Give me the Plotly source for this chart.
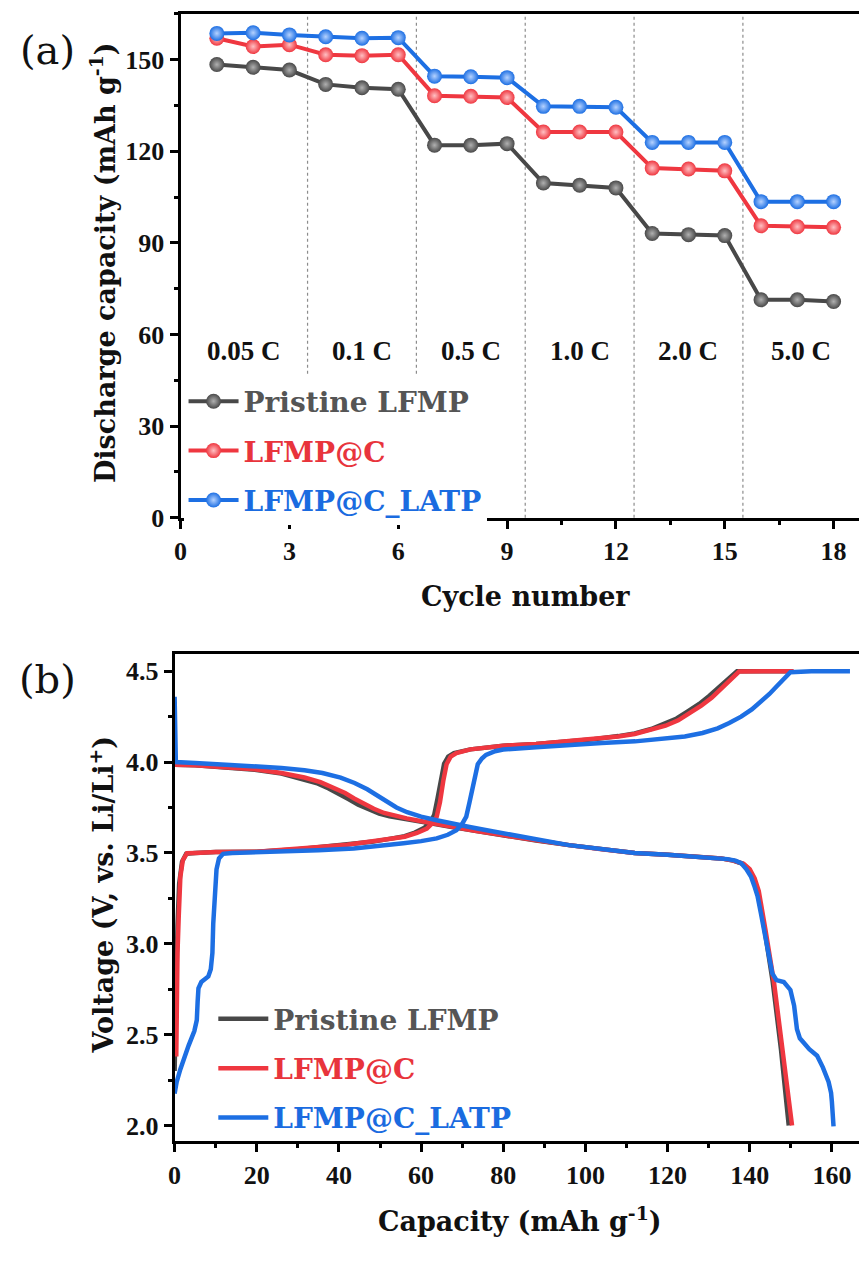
import plotly.graph_objects as go

# ---------------- Panel (a): rate capability ----------------
cycles = list(range(1, 19))
rate_labels = ["0.05 C", "0.1 C", "0.5 C", "1.0 C", "2.0 C", "5.0 C"]
cycles_per_rate = 3
rate_label_y = 54.6

cap_pristine = [148.4, 147.5, 146.6, 141.9, 140.8, 140.3, 122.0, 122.0, 122.5,
                109.6, 108.9, 108.0, 93.1, 92.7, 92.4, 71.4, 71.4, 70.8]
cap_lfmp_c = [157.0, 154.3, 154.9, 151.6, 151.3, 151.6, 138.2, 138.0, 137.6,
              126.3, 126.3, 126.3, 114.5, 114.2, 113.6, 95.6, 95.3, 95.1]
cap_lfmp_c_latp = [158.6, 158.8, 158.1, 157.5, 157.0, 157.2, 144.6, 144.4, 144.1,
                   134.7, 134.7, 134.4, 122.9, 122.9, 122.9, 103.5, 103.5, 103.5]

# ---------------- Panel (b): charge / discharge profiles ----------------
pr_chg_cap = [0.0, 0.2, 0.4, 0.7, 1.1, 1.8, 2.8, 5, 10, 20, 30, 36, 42, 48, 53, 56,
              58.5, 60.8, 62.4, 63.2, 64.0, 64.8, 65.6, 66.6, 68.0, 72, 76, 80, 88,
              96, 102, 108, 112, 116, 119.2, 122.2, 125.0, 127.7, 130.2, 132.5,
              134.8, 136.9, 145, 150.3]
pr_chg_v = [2.30, 2.55, 2.8, 3.1, 3.33, 3.45, 3.495, 3.50, 3.505, 3.507, 3.52, 3.534,
            3.545, 3.561, 3.58, 3.592, 3.612, 3.638, 3.675, 3.71, 3.80, 3.91, 3.99,
            4.03, 4.05, 4.07, 4.082, 4.09, 4.10, 4.114, 4.126, 4.143, 4.158, 4.182,
            4.21, 4.24, 4.28, 4.32, 4.365, 4.41, 4.46, 4.50, 4.50, 4.50]

c_chg_cap = [0.4, 0.5, 0.7, 1.0, 1.4, 2.0, 3.0, 5, 10, 20, 30, 36, 42, 48, 53, 56,
             59, 61.4, 63.0, 63.8, 64.6, 65.4, 66.2, 67.2, 68.6, 72, 76, 80, 88, 96,
             102, 108, 112, 116, 119.5, 122.6, 125.5, 128.2, 130.8, 133.0, 135.3,
             137.4, 145, 150.7]
c_chg_v = [2.38, 2.7, 2.95, 3.15, 3.37, 3.46, 3.498, 3.50, 3.505, 3.507, 3.52, 3.534,
           3.545, 3.561, 3.58, 3.589, 3.61, 3.634, 3.67, 3.70, 3.78, 3.897, 3.988,
           4.03, 4.05, 4.07, 4.082, 4.09, 4.10, 4.114, 4.125, 4.141, 4.155, 4.177,
           4.20, 4.23, 4.27, 4.31, 4.355, 4.40, 4.45, 4.498, 4.50, 4.50]

latp_chg_cap = [0.0, 0.5, 1.4, 2.4, 3.4, 4.8, 5.4, 5.6, 5.8, 6.5, 7.5, 8.2, 8.8, 9.0,
                9.2, 9.4, 9.8, 10.2, 10.8, 11.8, 14, 20, 27.5, 35, 43.6, 50, 55.7, 60,
                63.8, 66.5, 68.6, 70.0, 71.0, 71.8, 72.6, 73.2, 73.8, 74.8, 75.8, 78,
                80, 88, 96, 104, 112.1, 118, 124.2, 128.5, 132.2, 135, 137.9, 140.5,
                142.7, 144.8, 146.7, 148.4, 149.9, 155, 160, 164.4]
latp_chg_v = [2.175, 2.24, 2.31, 2.38, 2.44, 2.52, 2.58, 2.68, 2.755, 2.79, 2.81, 2.82,
              2.86, 2.89, 2.95, 3.11, 3.30, 3.41, 3.47, 3.495, 3.50, 3.503, 3.507,
              3.515, 3.525, 3.538, 3.553, 3.565, 3.58, 3.60, 3.625, 3.66, 3.70, 3.78,
              3.86, 3.93, 3.988, 4.02, 4.04, 4.06, 4.069, 4.082, 4.096, 4.105, 4.114,
              4.126, 4.141, 4.16, 4.186, 4.215, 4.25, 4.29, 4.33, 4.375, 4.42, 4.46,
              4.495, 4.50, 4.50, 4.50]

pr_dis_cap = [0, 0.3, 5, 10, 19.5, 26, 31.0, 34.5, 37.5, 40.2, 42.4, 44.7, 47.2, 49.8,
              52.3, 55.7, 59.2, 63.0, 67.5, 73.5, 79.9, 88, 96, 104, 112, 120, 128.2,
              133, 136, 138.3, 139.8, 141.0, 142.0, 142.8, 143.6, 145.6, 147.6, 149.5]
pr_dis_v = [3.99, 3.985, 3.982, 3.975, 3.958, 3.937, 3.91, 3.885, 3.855, 3.825, 3.795,
            3.765, 3.738, 3.716, 3.702, 3.687, 3.674, 3.66, 3.643, 3.62, 3.598, 3.568,
            3.543, 3.52, 3.50, 3.49, 3.48, 3.47, 3.458, 3.44, 3.41, 3.36, 3.29, 3.2,
            3.08, 2.79, 2.42, 2.0]

c_dis_cap = [0, 0.3, 5, 10, 19.5, 26, 31.6, 35.5, 38.8, 41.5, 43.7, 46, 48.5, 51, 53.3,
             56.5, 59.8, 63.5, 67.8, 73.5, 79.9, 88, 96, 104, 112, 120, 128.2, 133,
             136, 138.5, 140.0, 141.2, 142.2, 143.0, 143.8, 145.9, 148.0, 150.3]
c_dis_v = [3.99, 3.985, 3.982, 3.975, 3.96, 3.94, 3.915, 3.89, 3.86, 3.83, 3.80, 3.77,
           3.743, 3.72, 3.706, 3.69, 3.676, 3.66, 3.643, 3.62, 3.598, 3.568, 3.543,
           3.52, 3.50, 3.49, 3.48, 3.47, 3.458, 3.44, 3.41, 3.36, 3.29, 3.2, 3.08,
           2.79, 2.42, 2.0]

latp_dis_cap = [0, 0.15, 0.3, 5, 10, 19.5, 26, 31.6, 36, 40.4, 43.8, 46.9, 49.5, 51.7,
                54, 56.6, 60, 63.8, 67.5, 71.8, 76, 79.9, 88, 96, 104, 112, 120, 128.2,
                132, 134.6, 136.5, 137.9, 139.2, 140.3, 141.1, 141.9, 142.7, 143.5,
                144.5, 145.5, 146.5, 148.3, 149.9, 150.8, 151.5, 152.2, 153.1, 154.5,
                156.4, 157.8, 159.2, 159.8, 160.0, 160.2, 160.4]
latp_dis_v = [4.36, 4.1, 4.0, 3.995, 3.99, 3.978, 3.968, 3.955, 3.94, 3.915, 3.885,
              3.85, 3.815, 3.78, 3.75, 3.724, 3.70, 3.68, 3.66, 3.643, 3.625, 3.607,
              3.575, 3.543, 3.52, 3.50, 3.49, 3.48, 3.472, 3.466, 3.458, 3.444, 3.41,
              3.37, 3.32, 3.263, 3.17, 3.08, 2.96, 2.837, 2.80, 2.79, 2.746, 2.66,
              2.53, 2.48, 2.457, 2.42, 2.384, 2.32, 2.24, 2.18, 2.13, 2.06, 1.995]

# ---------------- styling ----------------
W, H = 859, 1265
GRAY, RED, BLUE = "#484848", "#ef3740", "#1d6fe3"
GRAY_T, RED_T, BLUE_T = "#555555", "#e8343c", "#1a6be0"
TEXT_FONT = "DejaVu Serif"
NUM_FONT = "Liberation Serif"


def px_x(p):
    return p / W


def px_y(p):
    return 1 - p / H


def colored(name, color):
    return f'<span style="color:{color}">{name}</span>'


fig = go.Figure()

series_a = [
    ("Pristine LFMP", cap_pristine, GRAY, "#b0b0b0", GRAY_T),
    ("LFMP@C", cap_lfmp_c, RED, "#ffc0c3", RED_T),
    ("LFMP@C_LATP", cap_lfmp_c_latp, BLUE, "#b5d2ff", BLUE_T),
]
for name, vals, col, hi, tcol in series_a:
    fig.add_trace(go.Scatter(
        x=cycles, y=vals, mode="lines+markers", name=colored(name, tcol),
        line=dict(color=col, width=4),
        marker=dict(size=15, color=col, gradient=dict(type="radial", color=hi)),
        xaxis="x", yaxis="y", legend="legend", legendgroup=name + "_a",
    ))

series_b = [
    ("Pristine LFMP", pr_chg_cap, pr_chg_v, pr_dis_cap, pr_dis_v, GRAY, GRAY_T),
    ("LFMP@C", c_chg_cap, c_chg_v, c_dis_cap, c_dis_v, RED, RED_T),
    ("LFMP@C_LATP", latp_chg_cap, latp_chg_v, latp_dis_cap, latp_dis_v, BLUE, BLUE_T),
]
for name, cx, cv, dx, dv, col, tcol in series_b:
    fig.add_trace(go.Scatter(
        x=cx + [None] + dx, y=cv + [None] + dv, mode="lines",
        name=colored(name, tcol), line=dict(color=col, width=4.5),
        xaxis="x2", yaxis="y2", legend="legend2", legendgroup=name + "_b",
    ))

# rate segment separators and labels, derived from the cycle grouping
n_rates = len(rate_labels)
boundaries = [0.5 + cycles_per_rate * k for k in range(1, n_rates)]
x_max_a = 18.7
edges = [0] + boundaries + [x_max_a]
shapes = []
for b in boundaries:
    shapes.append(dict(type="line", xref="x", yref="y domain", x0=b, x1=b, y0=0, y1=1,
                       line=dict(color="#8c8c8c", width=1.2, dash="dot"), layer="below"))

annotations = []
for i, lab in enumerate(rate_labels):
    annotations.append(dict(x=(edges[i] + edges[i + 1]) / 2, y=rate_label_y, xref="x", yref="y",
                            text=lab, showarrow=False, xanchor="center", yanchor="middle",
                            font=dict(family=NUM_FONT, size=27, color="#111111", weight="bold")))

title_font = dict(family=TEXT_FONT, size=27, color="#111111", weight="bold")
panel_font = dict(family=TEXT_FONT, size=40, color="#111111")


def paper_text(text, cx, cy, font, angle=0):
    return dict(x=px_x(cx), y=px_y(cy), xref="paper", yref="paper", text=text,
                showarrow=False, xanchor="center", yanchor="middle",
                textangle=angle, font=font)


annotations += [
    paper_text("(a)", 41, 51, panel_font),
    paper_text("(b)", 41, 687, panel_font),
    paper_text("Cycle number", 523, 604, title_font),
    paper_text("Discharge capacity (mAh g<sup>-1</sup>)", 97, 266, title_font, -90),
    paper_text("Capacity (mAh g<sup>-1</sup>)", 517, 1234, title_font),
    paper_text("Voltage (V, vs. Li/Li<sup>+</sup>)", 95, 905, title_font, -90),
]

tick_font = dict(family=NUM_FONT, size=26, color="#111111", weight="bold")
axis_common = dict(showline=True, linewidth=3, linecolor="black", ticks="outside",
                   ticklen=8, tickwidth=2.5, tickcolor="black", showgrid=False,
                   zeroline=False, tickfont=tick_font)


def minor(step):
    return dict(ticks="outside", dtick=step, ticklen=4, tickwidth=2.5, tickcolor="black")


fig.update_layout(
    width=W, height=H, margin=dict(l=0, r=0, t=0, b=0),
    paper_bgcolor="white", plot_bgcolor="white",
    xaxis=dict(domain=[px_x(175), 1], range=[0, x_max_a], tick0=0, dtick=3,
               mirror=True, anchor="y", minor=minor(1.5), **axis_common),
    yaxis=dict(domain=[px_y(524), px_y(14)], range=[0, 165], tick0=0, dtick=30,
               anchor="x", minor=minor(15), **axis_common),
    xaxis2=dict(domain=[px_x(169), 1], range=[0, 166.6], tick0=0, dtick=20,
                mirror=True, anchor="y2", minor=minor(10), **axis_common),
    yaxis2=dict(domain=[px_y(1155), px_y(662)], range=[1.913, 4.594], tick0=2,
                dtick=0.5, tickformat=".1f", anchor="x2", minor=minor(0.25),
                **axis_common),
    legend=dict(x=px_x(178), y=px_y(381), xanchor="left", yanchor="top",
                bgcolor="white", borderwidth=0, tracegroupgap=10, itemwidth=50,
                font=dict(family=TEXT_FONT, size=28, weight="bold")),
    legend2=dict(x=px_x(208), y=px_y(1006), xanchor="left", yanchor="top",
                 bgcolor="rgba(0,0,0,0)", borderwidth=0, tracegroupgap=10, itemwidth=50,
                 font=dict(family=TEXT_FONT, size=28, weight="bold")),
    shapes=shapes, annotations=annotations, showlegend=True,
)

fig.write_html("out.html")
